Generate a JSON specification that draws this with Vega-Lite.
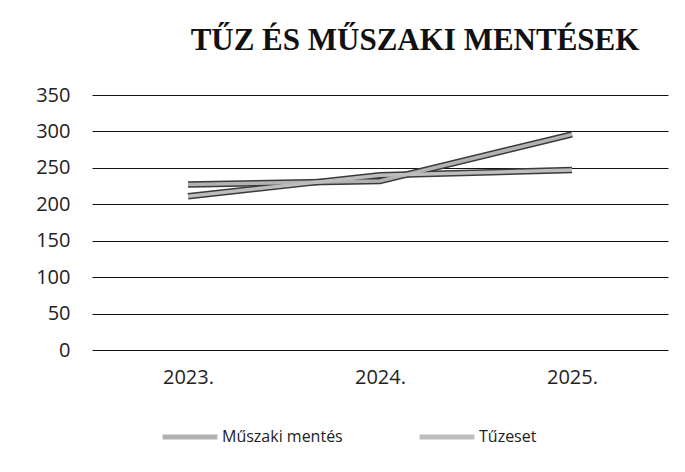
{
  "$schema": "https://vega.github.io/schema/vega-lite/v6.json",
  "width": 576,
  "height": 255,
  "autosize": {"type": "none"},
  "padding": {"left": 92, "top": 95, "right": 17, "bottom": 122},
  "background": "white",
  "title": {
    "text": "TŰZ ÉS MŰSZAKI MENTÉSEK",
    "font": "Liberation Serif",
    "fontSize": 31,
    "fontWeight": "bold",
    "color": "#111",
    "anchor": "middle",
    "frame": "group",
    "baseline": "alphabetic",
    "offset": 4,
    "dx": 35
  },
  "data": {
    "values": [
      {"year": "2023.", "series": "Műszaki mentés", "value": 227},
      {"year": "2024.", "series": "Műszaki mentés", "value": 232},
      {"year": "2025.", "series": "Műszaki mentés", "value": 296},
      {"year": "2023.", "series": "Tűzeset", "value": 211},
      {"year": "2024.", "series": "Tűzeset", "value": 240},
      {"year": "2025.", "series": "Tűzeset", "value": 247}
    ]
  },
  "encoding": {
    "x": {
      "field": "year",
      "type": "ordinal",
      "scale": {"type": "point", "padding": 0.5},
      "axis": {
        "title": null,
        "labelAngle": 0,
        "domain": false,
        "ticks": false,
        "labelPadding": 17,
        "labelFont": "Open Sans",
        "labelFontSize": 20,
        "labelColor": "#222"
      }
    },
    "y": {
      "field": "value",
      "type": "quantitative",
      "scale": {"domain": [0, 350]},
      "axis": {
        "title": null,
        "values": [0, 50, 100, 150, 200, 250, 300, 350],
        "domain": false,
        "ticks": false,
        "grid": true,
        "gridColor": "#111",
        "gridWidth": 1.2,
        "labelPadding": 22,
        "labelFont": "Open Sans",
        "labelFontSize": 20,
        "labelColor": "#222"
      }
    }
  },
  "layer": [
    {
      "mark": {"type": "line", "strokeWidth": 6.5, "strokeCap": "butt", "color": "#3a3a3a"},
      "encoding": {"detail": {"field": "series"}}
    },
    {
      "mark": {"type": "line", "strokeWidth": 3.5, "strokeCap": "butt"},
      "encoding": {
        "color": {
          "field": "series",
          "type": "nominal",
          "scale": {"domain": ["Műszaki mentés", "Tűzeset"], "range": ["#b2b2b2", "#bdbdbd"]},
          "legend": {
            "title": null,
            "orient": "none",
            "legendX": 68,
            "legendY": 312,
            "direction": "horizontal",
            "symbolType": "stroke",
            "symbolSize": 3000,
            "symbolStrokeWidth": 5,
            "symbolStrokeColor": "#8a8a8a",
            "labelFont": "Open Sans",
            "labelFontSize": 16,
            "labelColor": "#222",
            "columnPadding": 66,
            "labelOffset": 2
          }
        }
      }
    }
  ],
  "config": {"view": {"stroke": null}}
}
